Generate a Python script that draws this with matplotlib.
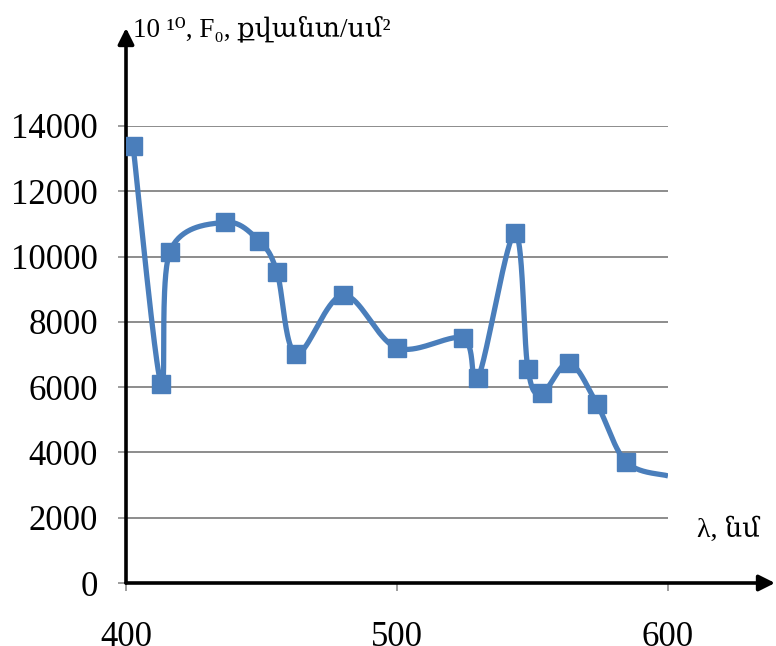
import numpy as np
import matplotlib
matplotlib.use("Agg")
import matplotlib.pyplot as plt

# photon flux vs wavelength
WAVELENGTH = [402.6, 412.9, 416.2, 436.5, 449.1, 455.7, 462.7, 480.1, 500.0,
              524.4, 529.9, 543.5, 548.3, 553.5, 563.5, 573.8, 584.5, 600.0]
FLUX = [13400, 6100, 10150, 11050, 10480, 9530, 7020, 8820, 7200,
        7500, 6280, 10720, 6560, 5820, 6740, 5480, 3710, 3280]
Y_TICKS = [0, 2000, 4000, 6000, 8000, 10000, 12000, 14000]
X_TICKS = [400, 500, 600]

SERIF = ["Liberation Serif", "DejaVu Serif", "DejaVu Sans"]
BLUE = "#4a7ebb"


def smooth(xs, ys, n=40):
    # Excel-like smoothed line: Catmull-Rom as cubic Bezier segments
    p = np.column_stack([xs, ys]).astype(float)
    p = np.vstack([p[0], p, p[-1]])
    out = []
    t = np.linspace(0, 1, n)[:, None]
    for i in range(1, len(p) - 2):
        p0, p3 = p[i], p[i + 1]
        c1 = p0 + (p[i + 1] - p[i - 1]) / 6
        c2 = p3 - (p[i + 2] - p[i]) / 6
        seg = ((1 - t) ** 3) * p0 + 3 * ((1 - t) ** 2) * t * c1 \
            + 3 * (1 - t) * t ** 2 * c2 + t ** 3 * p3
        out.append(seg if i == 1 else seg[1:])
    out = np.vstack(out)
    return out[:, 0], out[:, 1]


W, H = 776, 646
fig = plt.figure(figsize=(W / 100, H / 100), dpi=100)
left, right, top, bottom = 126, 668, 126, 583
ax = fig.add_axes([left / W, 1 - bottom / H, (right - left) / W, (bottom - top) / H])

ax.set_xlim(400, 600)
ax.set_ylim(0, 14000)

sx, sy = smooth(WAVELENGTH, FLUX)
ax.plot(sx, sy, color=BLUE, lw=3.8, solid_capstyle="butt", zorder=3)
ax.plot(WAVELENGTH, FLUX, "s", color=BLUE, ms=12.5,
        markevery=list(range(len(WAVELENGTH) - 1)), zorder=4)

for v in Y_TICKS[1:]:
    ax.axhline(v, color="#8c8c8c", lw=1.4, zorder=1)

for s in ax.spines.values():
    s.set_visible(False)

ax.set_yticks(Y_TICKS)
ax.set_xticks(X_TICKS)
ax.tick_params(axis="y", length=6, width=1.2, color="#8c8c8c", pad=14,
               labelsize=25)
ax.tick_params(axis="x", length=6, width=1.2, color="#8c8c8c", pad=21,
               labelsize=25)
for lab in ax.get_xticklabels() + ax.get_yticklabels():
    lab.set_family(SERIF)

# axis arrows
ax.annotate("", xy=(0, (bottom - 28) / (bottom - top)), xytext=(0, 0),
            xycoords="axes fraction", annotation_clip=False,
            arrowprops=dict(arrowstyle="-|>", color="black", lw=2.6,
                            mutation_scale=24, shrinkA=0, shrinkB=0))
ax.annotate("", xy=((W - 1 - left) / (right - left), 0), xytext=(0, 0),
            xycoords="axes fraction", annotation_clip=False,
            arrowprops=dict(arrowstyle="-|>", color="black", lw=2.6,
                            mutation_scale=24, shrinkA=0, shrinkB=0))

fig.text(133 / W, 1 - 36 / H, "10 ¹⁰, F₀, քվանտ/սմ²", family=SERIF,
         fontsize=19.5, ha="left", va="baseline")
fig.text(697 / W, 1 - 537 / H, "λ, նմ", family=SERIF,
         fontsize=20, ha="left", va="baseline")

fig.savefig("out.png", dpi=100)
